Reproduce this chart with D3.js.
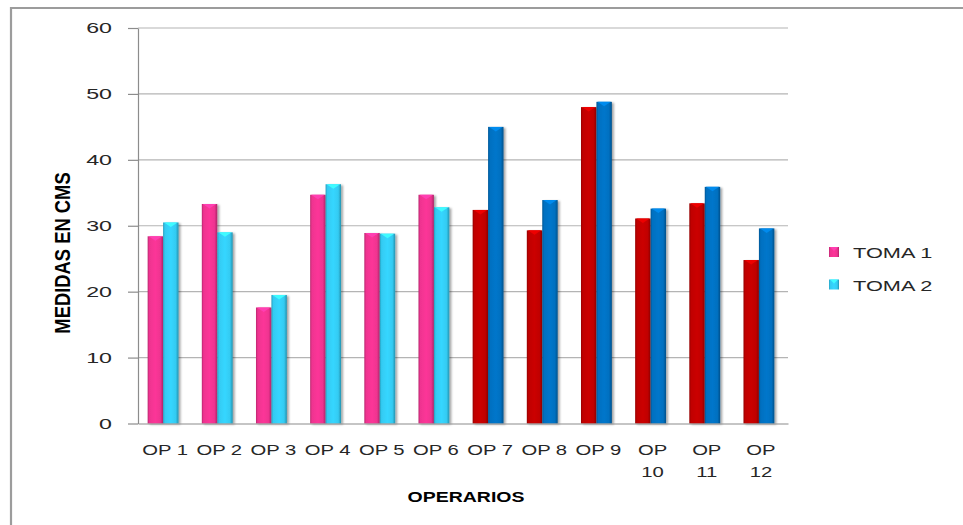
<!DOCTYPE html>
<html>
<head>
<meta charset="utf-8">
<script src="https://cdn.jsdelivr.net/npm/d3@7"></script>
<style>
  body { margin: 0; background: #fff; }
  svg { display: block; }
</style>
</head>
<body>
<div id="chart"></div>
<script>
// datos
const categorias = ["OP 1", "OP 2", "OP 3", "OP 4", "OP 5", "OP 6", "OP 7", "OP 8", "OP 9", "OP 10", "OP 11", "OP 12"];
const toma1 = [28.4, 33.3, 17.6, 34.7, 28.9, 34.7, 32.4, 29.3, 48.0, 31.1, 33.4, 24.8];
const toma2 = [30.5, 29.0, 19.5, 36.3, 28.8, 32.8, 45.0, 33.9, 48.8, 32.6, 35.9, 29.6];
const grupo = [0, 0, 0, 0, 0, 0, 1, 1, 1, 1, 1, 1];
const series = ["TOMA 1", "TOMA 2"];
const yTicks = [0, 10, 20, 30, 40, 50, 60];

const colores = [["#EF3390", "#33CBF2"], ["#C00000", "#0070C0"]];
const gridColor = "#b4b4b4";
const axisColor = "#8c8c8c";
const textColor = "#262626";

const width = 963, height = 525;
const plot = {left: 138, right: 788, top: 28, bottom: 423.5};

const svg = d3.select("#chart").append("svg").attr("width", width).attr("height", height);
const defs = svg.append("defs");

// gradientes tipo cilindro
const gradId = c => "g" + c.replace("#", "");
colores.flat().forEach(c => {
    const base = d3.color(c);
    const g = defs.append("linearGradient").attr("id", gradId(c)).attr("x1", 0).attr("x2", 1).attr("y1", 0).attr("y2", 0);
    [[0, base.darker(0.7)], [0.12, base], [0.5, base.brighter(0.15)], [0.82, base], [1, base.darker(0.9)]]
        .forEach(([o, col]) => g.append("stop").attr("offset", o).attr("stop-color", col));
});
const shadow = defs.append("filter").attr("id", "sombra").attr("x", "-30%").attr("y", "-10%").attr("width", "160%").attr("height", "120%");
shadow.append("feDropShadow").attr("dx", 2).attr("dy", 1).attr("stdDeviation", 1.3).attr("flood-color", "#000").attr("flood-opacity", 0.35);

// marco recortado
svg.append("path").attr("d", `M11,${height} V8 H${width}`).attr("fill", "none").attr("stroke", "#9c9c9c").attr("stroke-width", 2.2);

const x = d3.scaleBand().domain(categorias).range([plot.left, plot.right]).paddingInner(0.43).paddingOuter(0.215);
const y = d3.scaleLinear().domain([0, 60]).range([plot.bottom, plot.top]);

// rejilla
svg.append("g").selectAll("line").data(yTicks.slice(1)).join("line")
    .attr("x1", plot.left).attr("x2", plot.right)
    .attr("y1", d => y(d)).attr("y2", d => y(d))
    .attr("stroke", gridColor).attr("stroke-width", 1.2);

// eje y
const yAxis = svg.append("g").attr("transform", `translate(${plot.left},0)`)
    .call(d3.axisLeft(y).tickValues(yTicks).tickSize(10).tickSizeOuter(0));
yAxis.select(".domain").attr("stroke", axisColor).attr("stroke-width", 1.2);
yAxis.selectAll(".tick line").attr("stroke", axisColor).attr("stroke-width", 1.2);
yAxis.selectAll(".tick text").attr("x", 0).attr("transform", "translate(-26,0) scale(1.6,1)")
    .attr("font-family", "Liberation Sans, Arial, sans-serif").attr("font-size", 14.5).attr("fill", textColor);

// barras
const sub = d3.scaleBand().domain([0, 1]).range([0, x.bandwidth()]);
const barData = [];
categorias.forEach((c, i) => {
    [toma1[i], toma2[i]].forEach((v, s) => barData.push({cat: c, s, v, color: colores[grupo[i]][s]}));
});
const bars = svg.append("g").attr("transform", "translate(-2,0)").selectAll("g").data(barData).join("g");
bars.append("rect")
    .attr("x", d => x(d.cat) + sub(d.s)).attr("width", sub.bandwidth())
    .attr("y", d => y(d.v)).attr("height", d => y(0) - y(d.v))
    .attr("fill", d => `url(#${gradId(d.color)})`)
    .attr("filter", "url(#sombra)");
bars.append("path")
    .attr("d", d => {
        const x0 = x(d.cat) + sub(d.s), w = sub.bandwidth(), t = y(d.v);
        return `M${x0 + 1},${t} H${x0 + w - 1} L${x0 + w / 2},${t + 4.5} Z`;
    })
    .attr("fill", d => d3.color(d.color).brighter(0.6));

// eje x
const xAxis = svg.append("g").attr("transform", `translate(0,${plot.bottom})`)
    .call(d3.axisBottom(x).tickSize(0).tickSizeOuter(0));
xAxis.select(".domain").attr("stroke", axisColor).attr("stroke-width", 1.2);
xAxis.selectAll(".tick text").remove();
xAxis.selectAll(".tick").each(function (d) {
    const parts = d.split(" ");
    const lines = parts[1].length > 1 ? [parts[0], parts[1]] : [d];
    const t = d3.select(this).append("text")
        .attr("font-family", "Liberation Sans, Arial, sans-serif").attr("font-size", 15)
        .attr("fill", textColor).attr("text-anchor", "middle")
        .attr("transform", "translate(0,31.5) scale(1.35,1)");
    lines.forEach((l, k) => t.append("tspan").attr("x", 0).attr("y", k * 22).text(l));
});

// titulos
svg.append("text").text("OPERARIOS")
    .attr("transform", `translate(${(plot.left + plot.right) / 2 + 3},502) scale(1.3,1)`)
    .attr("text-anchor", "middle").attr("font-family", "Liberation Sans, Arial, sans-serif")
    .attr("font-weight", "bold").attr("font-size", 15).attr("fill", "#000");
svg.append("text").text("MEDIDAS EN CMS")
    .attr("transform", "translate(70,253) rotate(-90) scale(0.92,1.08)")
    .attr("text-anchor", "middle").attr("font-family", "Liberation Sans, Arial, sans-serif")
    .attr("font-weight", "bold").attr("font-size", 20).attr("fill", "#000");

// leyenda
const legend = svg.append("g").selectAll("g").data(series).join("g")
    .attr("transform", (d, i) => `translate(829,${247 + i * 32.5})`);
legend.append("rect").attr("width", 10).attr("height", 10)
    .attr("fill", (d, i) => `url(#${gradId(colores[0][i])})`);
legend.append("path").attr("d", "M1,0 H9 L5,4 Z").attr("fill", (d, i) => d3.color(colores[0][i]).brighter(0.6));
legend.append("text").text(d => d)
    .attr("transform", "translate(24,11) scale(1.45,1)")
    .attr("font-family", "Liberation Sans, Arial, sans-serif").attr("font-size", 15).attr("fill", textColor);
</script>
</body>
</html>
